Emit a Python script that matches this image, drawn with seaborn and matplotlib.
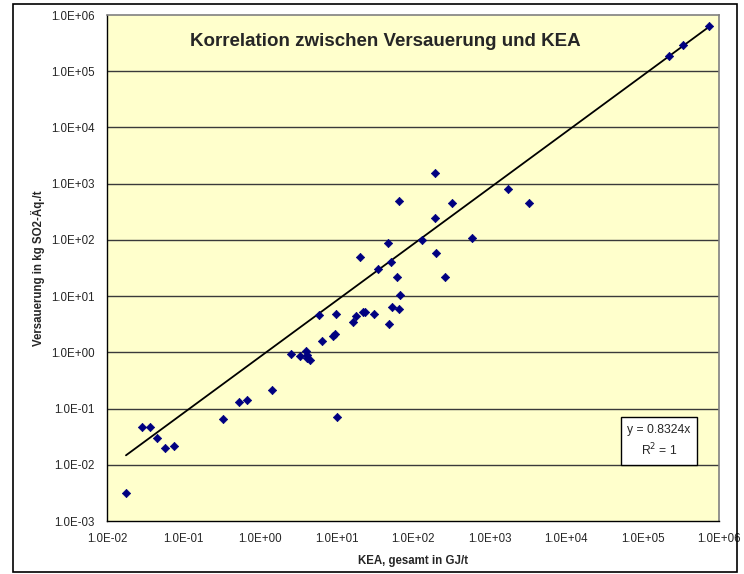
import numpy as np
import pandas as pd
import matplotlib
matplotlib.use("Agg")
import matplotlib.pyplot as plt
import seaborn as sns
from matplotlib.ticker import FixedLocator, FuncFormatter, NullLocator
from matplotlib.patches import Rectangle

# KEA (cumulative energy demand) in GJ/t
kea = [0.0177, 0.0284, 0.0368, 0.0451, 0.0578, 0.0752, 0.332, 0.537, 0.676,
       1.435, 2.52, 3.33, 3.99, 4.16, 4.1, 4.5, 5.96, 6.4, 9.85, 9.08, 9.65,
       10.0, 16.3, 17.8, 22.0, 23.8, 31.2, 20.5, 34.9, 47.5, 51.1, 48.5,
       53.6, 61.8, 67.0, 65.0, 65.0, 132, 192, 193, 200, 259, 324, 596,
       1762, 3283, 224000, 335000, 740000]
# Acidification in kg SO2-eq./t
versauerung = [0.00318, 0.0464, 0.047, 0.0303, 0.0201, 0.0216, 0.066, 0.1306,
               0.142, 0.214, 0.92, 0.87, 1.07, 0.895, 0.78, 0.73, 4.6, 1.59,
               4.8, 1.97, 2.12, 0.0716, 3.42, 4.49, 5.28, 5.28, 4.8, 50.2,
               30.3, 89, 40.4, 3.15, 6.3, 21.6, 10.3, 5.8, 498, 99.5, 242,
               1527, 57.7, 21.6, 459, 108, 815, 459, 189000, 296000, 630000]
# Linear trend through the origin
slope = 0.8324
r_squared = 1

x_ticks = [1e-2, 1e-1, 1e0, 1e1, 1e2, 1e3, 1e4, 1e5, 1e6]
y_ticks = [1e-3, 1e-2, 1e-1, 1e0, 1e1, 1e2, 1e3, 1e4, 1e5, 1e6]

df = pd.DataFrame({"KEA": kea, "Versauerung": versauerung})

sns.set_style("white")
plt.rcParams["font.family"] = ["Liberation Sans", "DejaVu Sans"]

fig = plt.figure(figsize=(7.44, 5.74), dpi=100)
ax = fig.add_axes([107 / 744, 53 / 574, 612 / 744, 506 / 574])
ax.set_facecolor("#FFFFCC")

ax.set_xscale("log")
ax.set_yscale("log")
ax.set_xlim(1e-2, 1e6)
ax.set_ylim(1e-3, 1e6)

# Horizontal gridlines at each decade
for yv in y_ticks[1:-1]:
    ax.axhline(yv, color="#3a3a3a", lw=1.0, zorder=1)

# Trend line
xl = np.array([min(kea), max(kea)])
ax.plot(xl, slope * xl, color="black", lw=1.3, zorder=2)

sns.scatterplot(data=df, x="KEA", y="Versauerung", marker="D", s=18,
                color="#000080", edgecolor="#000080", linewidth=0.5,
                ax=ax, zorder=3, legend=False)

fmt = FuncFormatter(lambda v, p: "{:.1E}".format(v))
ax.xaxis.set_major_locator(FixedLocator(x_ticks))
ax.yaxis.set_major_locator(FixedLocator(y_ticks))
ax.xaxis.set_minor_locator(NullLocator())
ax.yaxis.set_minor_locator(NullLocator())
ax.xaxis.set_major_formatter(fmt)
ax.yaxis.set_major_formatter(fmt)
ax.tick_params(axis="both", which="major", direction="out", length=5,
               width=1, color="black", labelsize=8.3, pad=4)

for side in ["left", "bottom"]:
    ax.spines[side].set_color("black")
    ax.spines[side].set_linewidth(1.0)
for side in ["top", "right"]:
    ax.spines[side].set_visible(True)
    ax.spines[side].set_color("#808080")
    ax.spines[side].set_linewidth(1.2)

ax.set_xlabel("KEA, gesamt in GJ/t", fontsize=8.3, fontweight="bold", labelpad=7)
ax.set_ylabel("Versauerung in kg SO2-Äq./t", fontsize=8.3, fontweight="bold", labelpad=4)

fig.text(385 / 744, 1 - 42 / 574, "Korrelation zwischen Versauerung und KEA",
         ha="center", va="center", fontsize=13.5, fontweight="bold")

ax.text(0.902, 0.158, "y = {:.4f}x\nR$^2$ = {}".format(slope, r_squared),
        transform=ax.transAxes, ha="center", va="center", fontsize=8.7,
        linespacing=1.45,
        bbox=dict(boxstyle="square,pad=0.55", facecolor="white",
                  edgecolor="black", linewidth=1.0), zorder=5)

# Outer chart border
fig.patches.append(Rectangle((13 / 744, 2 / 574), 724 / 744, 568 / 574,
                             transform=fig.transFigure, fill=False,
                             edgecolor="black", linewidth=1.2))

fig.savefig("out.png", dpi=100)
